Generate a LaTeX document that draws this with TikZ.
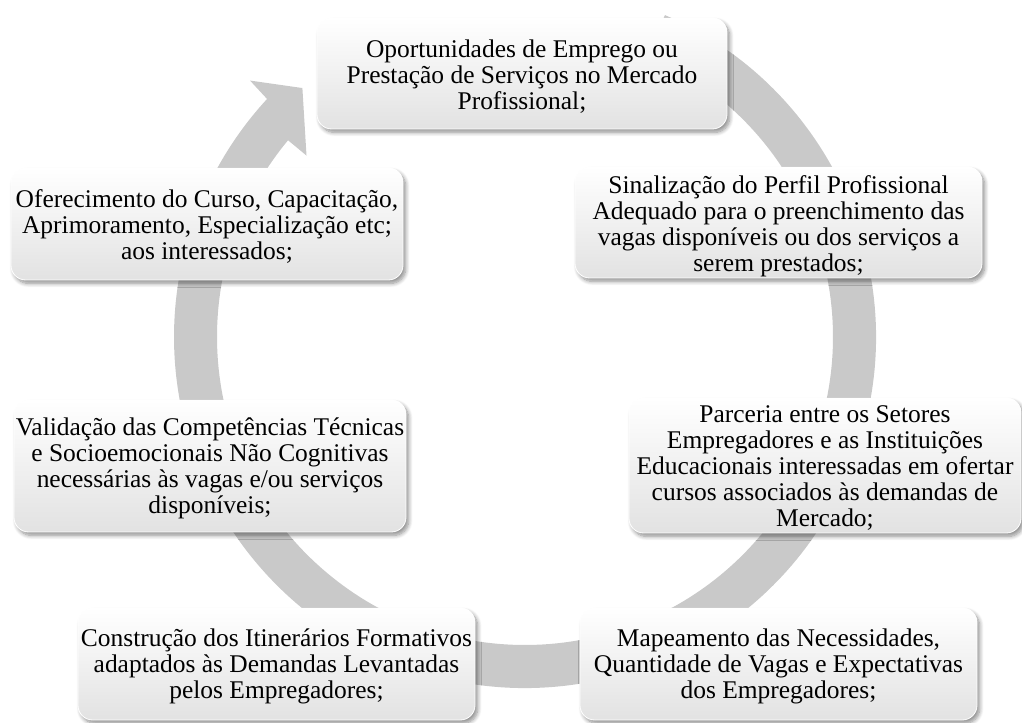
\documentclass[tikz,border=0pt]{standalone}
\usepackage{fontspec}
\setmainfont{Liberation Serif}
\usetikzlibrary{shadows.blur}
\definecolor{ringc}{RGB}{201,201,201}
\definecolor{boxbot}{RGB}{226,226,226}
\begin{document}
\begin{tikzpicture}[x=0.75pt,y=0.75pt,
  box/.style={rounded corners=11pt, top color=white, bottom color=boxbot,
    draw=white, line width=0.6pt,
    blur shadow={shadow xshift=2pt, shadow yshift=-2.5pt, shadow blur steps=8, shadow opacity=45, shadow blur radius=3pt},
    inner sep=0pt},
  txt/.style={align=center, inner sep=0pt, font=\fontsize{19.1}{19.5}\selectfont}]
\useasboundingbox (0,0) rectangle (1022,722);
% ring arrow
\coordinate (c) at (525,385);
\fill[ringc] ([shift={(c)}]66.5:351) arc[start angle=66.5, end angle=-222.7, radius=351]
  -- ([shift={(c)}]137:376) -- ([shift={(c)}]131.8:334) -- ([shift={(c)}]140.3:284)
  -- ([shift={(c)}]140.3:308) arc[start angle=-219.7, end angle=66.5, radius=308] -- cycle;
% boxes
\node[box, minimum width=410*0.75pt, minimum height=111*0.75pt] (b1) at (522,648.5) {};
\node[box, minimum width=407*0.75pt, minimum height=111*0.75pt] (b2) at (778.5,499.5) {};
\node[box, minimum width=392*0.75pt, minimum height=135*0.75pt] (b3) at (825,256.5) {};
\node[box, minimum width=397*0.75pt, minimum height=112*0.75pt] (b4) at (778.5,58) {};
\node[box, minimum width=397*0.75pt, minimum height=112*0.75pt] (b5) at (276.5,58) {};
\node[box, minimum width=392*0.75pt, minimum height=132*0.75pt] (b6) at (210,256) {};
\node[box, minimum width=392*0.75pt, minimum height=112*0.75pt] (b7) at (207,498) {};
% texts
\node[txt] (t1) at ([yshift=-2]b1.center)
  {Oportunidades de Emprego ou\\Prestação de Serviços no Mercado\\Profissional;};
\node[txt] (t2) at ([yshift=-3]b2.center)
  {Sinalização do Perfil Profissional\\Adequado para o preenchimento das\\vagas disponíveis ou dos serviços a\\serem prestados;};
\node[txt] (t3) at ([yshift=-2]b3.center)
  {Parceria entre os Setores\\Empregadores e as Instituições\\Educacionais interessadas em ofertar\\cursos associados às demandas de\\Mercado;};
\node[txt] (t4) at ([yshift=-2]b4.center)
  {Mapeamento das Necessidades,\\Quantidade de Vagas e Expectativas\\dos Empregadores;};
\node[txt] (t5) at ([yshift=-2]b5.center)
  {Construção dos Itinerários Formativos\\adaptados às Demandas Levantadas\\pelos Empregadores;};
\node[txt] (t6) at ([yshift=-2]b6.center)
  {Validação das Competências Técnicas\\e Socioemocionais Não Cognitivas\\necessárias às vagas e/ou serviços\\disponíveis;};
\node[txt] (t7) at ([yshift=-2]b7.center)
  {Oferecimento do Curso, Capacitação,\\Aprimoramento, Especialização etc;\\aos interessados;};
\end{tikzpicture}
\end{document}
